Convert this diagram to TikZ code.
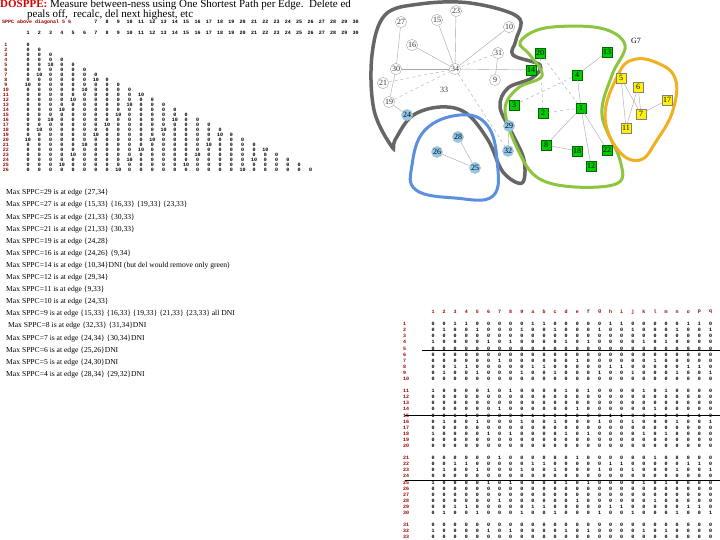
\documentclass[tikz,border=0pt]{standalone}
\usepackage{fontspec}
\setmainfont{Liberation Serif}
\newfontfamily\monof{Liberation Mono}
\definecolor{skyb}{HTML}{8EC8EC}
\definecolor{blobg}{HTML}{8CC63F}
\definecolor{blobb}{HTML}{5B8FE0}
\definecolor{bloby}{HTML}{F0B020}
\begin{document}
\begin{tikzpicture}[x=1pt,y=-1pt,
  gn/.style={circle,draw=gray!70,fill=white,inner sep=0.6pt,font=\fontsize{8}{8}\selectfont,text=gray!40!black,minimum size=11pt},
  bn/.style={circle,draw=gray!50,fill=skyb,inner sep=0.6pt,font=\fontsize{8}{8}\selectfont,minimum size=11pt},
  grn/.style={rectangle,draw=green!40!black,fill=green!80!black,inner sep=1pt,font=\fontsize{8}{8}\selectfont,minimum size=10pt},
  yn/.style={rectangle,draw=gray,fill=yellow,inner sep=1pt,font=\fontsize{8}{8}\selectfont,minimum size=10pt},
  ed/.style={draw=gray!70,thin},
  tb/.style={font=\monof\bfseries\fontsize{5}{5}\selectfont,inner sep=0pt},
  lst/.style={anchor=west,inner sep=0pt,font=\fontsize{7.6}{8}\selectfont}]
\useasboundingbox (0,0) rectangle (720,540);
\fill[white] (0,0) rectangle (720,540);
% title
\node[anchor=north west,inner sep=0pt,font=\fontsize{11}{11}\selectfont] (title) at (0,0) {\textcolor{red!85!black}{\textbf{DOSPPE:}} Measure between-ness using One Shortest Path per Edge.\ \ Delete ed};
\node[anchor=north west,inner sep=0pt,font=\fontsize{11}{11}\selectfont] (title2) at (27,10) {peals off,\ \ recalc, del next highest, etc};
% top-left triangular table
\node[tb,anchor=west,text=red!60!black] (th) at (2,22) {SPPC above diagonal 5 6};
\foreach \j in {7,...,30}{\node[tb] (hh\j) at ({28+11.3*(\j-1)},22) {\j};}
\foreach \j in {1,...,30}{\node[tb] (hc\j) at ({28+11.3*(\j-1)},33) {\j};}
\foreach \i in {1,...,26}{
  \node[tb,text=red!60!black] (rl\i) at (6,{40+5*\i}) {\i};
  \foreach \j in {1,...,\i}{
    \pgfmathsetmacro{\v}{int(mod(\i*7+\j*3,11))}
    \node[tb] (t\i-\j) at ({28+11.3*(\j-1)},{40+5*\i}) {\ifnum\v=0 1\v\else 0\fi};
  }}
% list
\foreach[count=\k] \t in {
 {Max SPPC=29 is at edge \{27,34\}},
 {Max SPPC=27 is at edge \{15,33\} \{16,33\} \{19,33\} \{23,33\}},
 {Max SPPC=25 is at edge \{21,33\} \{30,33\}},
 {Max SPPC=21 is at edge \{21,33\} \{30,33\}},
 {Max SPPC=19 is at edge \{24,28\}},
 {Max SPPC=16 is at edge \{24,26\} \{9,34\}},
 {Max SPPC=14 is at edge \{10,34\}DNI (but del would remove only green)},
 {Max SPPC=12 is at edge \{29,34\}},
 {Max SPPC=11 is at edge \{9,33\}},
 {Max SPPC=10 is at edge \{24,33\}},
 {Max SPPC=9 is at edge \{15,33\} \{16,33\} \{19,33\} \{21,33\} \{23,33\} all DNI},
 {\ Max SPPC=8 is at edge \{32,33\} \{31,34\}DNI},
 {Max SPPC=7 is at edge \{24,34\} \{30,34\}DNI},
 {Max SPPC=6 is at edge \{25,26\}DNI},
 {Max SPPC=5 is at edge \{24,30\}DNI},
 {Max SPPC=4 is at edge \{28,34\} \{29,32\}DNI}}
 {\node[lst] (l\k) at (6,{193+12.1*(\k-1)}) {\t};}
% bottom-right table
\foreach[count=\c] \h in {1,2,3,4,5,6,7,8,9,a,b,c,d,e,f,g,h,i,j,k,l,m,n,o,p,q}{
  \node[tb,text=red!60!black] (bh\c) at ({433+11.1*(\c-1)},312) {\h};}
\foreach \r in {1,...,34}{
  \pgfmathsetmacro{\yy}{324+6.1*(\r-1)+6*int((\r-1)/10)}
  \node[tb,anchor=west,text=red!60!black] (br\r) at (403,\yy) {\r};
  \foreach \c in {1,...,26}{
    \pgfmathsetmacro{\w}{int(mod(\r*5+\c*\c,7))}
    \node[tb] (b\r-\c) at ({433+11.1*(\c-1)},\yy) {\ifnum\w=0 1\else 0\fi};
  }}
\coordinate (h1a) at (422,350); \coordinate (h1b) at (720,350);
\coordinate (h2a) at (405,415); \coordinate (h2b) at (720,415);
\coordinate (h3a) at (405,480); \coordinate (h3b) at (720,480);
\draw[thick] (h1a)--(h1b); \draw[thick] (h2a)--(h2b); \draw[thick] (h3a)--(h3b);
% blobs
\draw[line width=3.5pt,gray!80!black] plot[smooth cycle,tension=0.6] coordinates{(392,147) (374,110) (372,55) (385,15) (420,4) (470,3) (518,17) (516,40) (513,55) (540,65) (532,78) (508,88) (500,107) (512,133) (524,160) (522,183) (503,172) (488,140) (466,113) (440,107) (412,116) (395,140)};
\draw[line width=3pt,blobb] plot[smooth cycle,tension=0.7] coordinates{(412,165) (425,130) (460,115) (487,125) (497,160) (493,196) (455,198) (416,190)};
\draw[line width=3pt,blobg] plot[smooth cycle,tension=0.6] coordinates{(520,42) (545,28) (600,28) (625,45) (612,75) (602,115) (620,160) (618,183) (575,187) (538,178) (518,150) (505,110) (518,88) (542,76) (530,55)};
\draw[line width=3pt,bloby] plot[smooth cycle,tension=0.7] coordinates{(618,75) (632,60) (655,62) (675,78) (673,110) (657,140) (640,160) (618,150) (605,115)};
% graph nodes
\node[gn] (n27) at (401,22) {27}; \node[gn] (n15) at (437,20) {15};
\node[gn] (n23) at (456,11) {23}; \node[gn] (n10) at (509,27) {10};
\node[gn] (n16) at (412,45) {16}; \node[gn] (n31) at (498,53) {31};
\node[gn] (n30) at (396,69) {30}; \node[gn] (n34) at (455,69) {34};
\node[gn] (n9) at (495,80) {9}; \node[gn] (n21) at (383,83) {21};
\node[inner sep=0pt,font=\fontsize{8}{8}\selectfont,text=gray!40!black] (n33) at (444,90) {33};
\node[gn] (n19) at (389,102) {19};
\node[bn] (n24) at (407,115) {24}; \node[bn] (n29) at (509,126) {29};
\node[bn] (n32) at (508,151) {32}; \node[bn] (n28) at (458,137) {28};
\node[bn] (n26) at (437,152) {26}; \node[bn] (n25) at (475,168) {25};
\node[grn] (n14) at (531,70) {14}; \node[grn] (n20) at (540,53) {20};
\node[grn] (n13) at (607,52) {13}; \node[grn] (n4) at (577,75) {4};
\node[grn] (n3) at (514,105) {3}; \node[grn] (n2) at (543,113) {2};
\node[grn] (n1) at (581,108) {1}; \node[grn] (n8) at (546,145) {8};
\node[grn] (n18) at (577,151) {18}; \node[grn] (n22) at (607,150) {22};
\node[grn] (n12) at (591,166) {12};
\node[yn] (n5) at (621,78) {5}; \node[yn] (n6) at (638,87) {6};
\node[yn] (n17) at (667,100) {17}; \node[yn] (n7) at (641,114) {7};
\node[yn] (n11) at (626,128) {11};
\node[inner sep=0pt,font=\fontsize{8}{8}\selectfont] (g7) at (636,41) {G7};
% edges
\draw[ed] (n27)--(n30); \draw[ed] (n15)--(n34); \draw[ed] (n23)--(n34);
\draw[ed] (n10)--(n34); \draw[ed] (n16)--(n34); \draw[ed,dashed] (n31)--(n34);
\draw[ed] (n30)--(n34); \draw[ed] (n34)--(n14); \draw[ed] (n9)--(n31);
\draw[ed,dashed] (n21)--(n34); \draw[ed,dashed] (n19)--(n34); \draw[ed] (n24)--(n19);
\draw[ed] (n30)--(n19); \draw[ed,dashed] (n34)--(n32); \draw[ed] (n29)--(n32);
\draw[ed] (n28)--(n25); \draw[ed] (n26)--(n25);
\draw[ed,dashed] (n20)--(n1); \draw[ed,dashed] (n20)--(n2); \draw[ed] (n13)--(n4);
\draw[ed,dashed] (n4)--(n3); \draw[ed] (n4)--(n1); \draw[ed] (n1)--(n8);
\draw[ed] (n1)--(n12); \draw[ed] (n1)--(n22); \draw[ed] (n8)--(n18);
\draw[ed,dashed] (n2)--(n1);
\draw[ed] (n5)--(n11); \draw[ed] (n5)--(n7); \draw[ed] (n6)--(n7);
\draw[ed] (n6)--(n11); \draw[ed] (n7)--(n17);
\end{tikzpicture}
\end{document}
